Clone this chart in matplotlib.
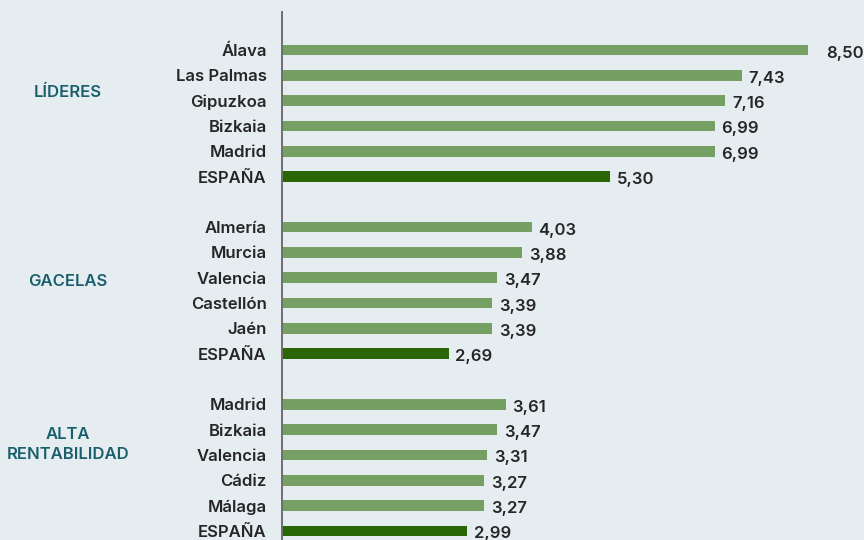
import matplotlib.pyplot as plt
import numpy as np

plt.rcParams['font.family'] = ['Inter', 'DejaVu Sans']

# data
groups = ["LÍDERES", "GACELAS", "ALTA\nRENTABILIDAD"]
lideres_names = ["Álava", "Las Palmas", "Gipuzkoa", "Bizkaia", "Madrid", "ESPAÑA"]
lideres_vals = [8.50, 7.43, 7.16, 6.99, 6.99, 5.30]
gacelas_names = ["Almería", "Murcia", "Valencia", "Castellón", "Jaén", "ESPAÑA"]
gacelas_vals = [4.03, 3.88, 3.47, 3.39, 3.39, 2.69]
alta_names = ["Madrid", "Bizkaia", "Valencia", "Cádiz", "Málaga", "ESPAÑA"]
alta_vals = [3.61, 3.47, 3.31, 3.27, 3.27, 2.99]

bg = '#e6edf0'
light = '#76a063'
dark = '#2b6604'
teal = '#1b5f6d'
txt = '#262626'

names = lideres_names + gacelas_names + alta_names
vals = lideres_vals + gacelas_vals + alta_vals
pos = list(range(0, 6)) + list(range(7, 13)) + list(range(14, 20))
cols = [dark if n == "ESPAÑA" else light for n in names]

fig = plt.figure(figsize=(8.64, 5.4), dpi=100, facecolor=bg)
ax = fig.add_axes([282 / 864, 0, 1 - 282 / 864, 1 - 12 / 540])
ax.set_facecolor(bg)

ax.barh(pos, vals, height=0.42, color=cols)
for p, v in zip(pos, vals):
    off = 0.29 if v > 8 else 0.11
    ax.text(v + off, p + 0.12, f"{v:.2f}".replace('.', ','), va='center', ha='left',
            fontsize=12, fontweight='semibold', color=txt)

ax.set_xlim(0, 9.4)
ax.set_ylim(19.36, -1.5)
ax.set_yticks(pos)
ax.set_yticklabels(names, fontsize=12, fontweight='semibold', color=txt)
ax.tick_params(axis='y', length=0, pad=11)
ax.set_xticks([])
for s in ['top', 'right', 'bottom']:
    ax.spines[s].set_visible(False)
ax.spines['left'].set_color('#6e6e6e')
ax.spines['left'].set_linewidth(1.4)

# group labels, placed in figure coords
group_y = [1.66, 9.17, 15.6]
for g, y in zip(groups, group_y):
    fy = 1 - (12 + (y + 1.5) * 25.3) / 540
    fig.text(68 / 864, fy, g, ha='center', va='center', fontsize=12,
             fontweight='semibold', color=teal, linespacing=1.4)

plt.savefig('out.png', dpi=100, facecolor=bg)
